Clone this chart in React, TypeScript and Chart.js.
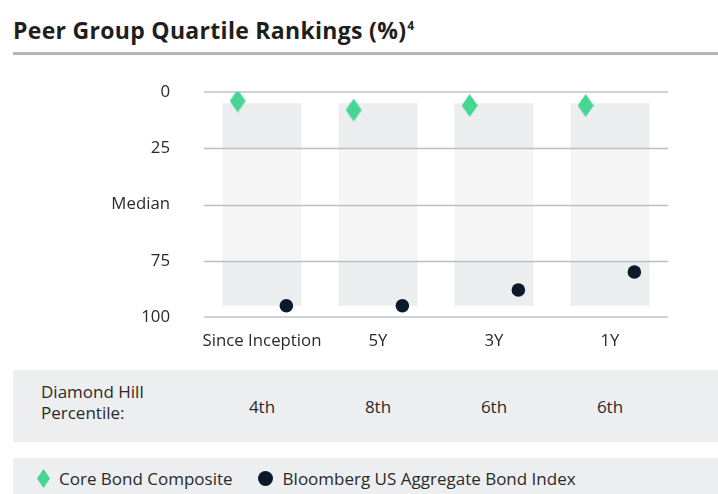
import React, { useEffect, useRef } from 'react';
import { Chart, registerables } from 'chart.js';

Chart.register(...registerables);

// ---- data ----
const categories = ['Since Inception', '5Y', '3Y', '1Y'];
const coreBondRank = [4, 8, 6, 6];
const benchmarkRank = [95, 95, 88, 80];
const topQuartileBand = [[5, 25], [5, 25], [5, 25], [5, 25]];
const middleQuartilesBand = [[25, 75], [25, 75], [25, 75], [25, 75]];
const bottomQuartileBand = [[75, 95], [75, 95], [75, 95], [75, 95]];
const yTickValues = [0, 25, 50, 75, 100];
const yTickLabels = ['0', '25', 'Median', '75', '100'];
const percentileLabels = ['4th', '8th', '6th', '6th'];

// ---- styles ----
const GREEN = '#47D594';
const NAVY = '#0B1A2A';
const TEXT = '#2A2A2A';
const FONT = '"Open Sans", sans-serif';
const MARKER_SHIFT = 0.21; // fraction of a category the markers sit left/right of centre

function makeDiamond(w: number, h: number, color: string) {
  const c = document.createElement('canvas');
  c.width = w;
  c.height = h;
  const ctx = c.getContext('2d')!;
  ctx.fillStyle = color;
  ctx.beginPath();
  ctx.moveTo(w / 2, 0);
  ctx.lineTo(w, h / 2);
  ctx.lineTo(w / 2, h);
  ctx.lineTo(0, h / 2);
  ctx.closePath();
  ctx.fill();
  return c;
}

const gridOverBars = {
  id: 'gridOverBars',
  afterDatasetDraw(chart: any, args: any) {
    if (args.index !== 2) return;
    const { ctx, chartArea, scales } = chart;
    const y = scales.y;
    ctx.save();
    y.ticks.forEach((t: any) => {
      const edge = t.value === 0 || t.value === 100;
      const py = y.getPixelForValue(t.value);
      ctx.strokeStyle = edge ? '#CFD2D6' : '#BBBEC3';
      ctx.lineWidth = edge ? 2 : 1.3;
      const yy = Math.round(py) + (edge ? 0 : 0.5);
      ctx.beginPath();
      ctx.moveTo(chartArea.left, yy);
      ctx.lineTo(chartArea.right, yy);
      ctx.stroke();
    });
    ctx.restore();
  },
};

function RankChart() {
  const ref = useRef<HTMLCanvasElement>(null);
  useEffect(() => {
    const diamond = makeDiamond(16, 23, GREEN);
    const chart = new Chart(ref.current!, {
      type: 'bar',
      data: {
        labels: categories,
        datasets: [
          {
            type: 'scatter',
            label: 'Core Bond Composite',
            xAxisID: 'xp',
            data: coreBondRank.map((v, i) => ({ x: i - MARKER_SHIFT, y: v })),
            pointStyle: diamond as any,
            backgroundColor: GREEN,
            borderWidth: 0,
          } as any,
          {
            type: 'scatter',
            label: 'Bloomberg US Aggregate Bond Index',
            xAxisID: 'xp',
            data: benchmarkRank.map((v, i) => ({ x: i + MARKER_SHIFT, y: v })),
            pointStyle: 'circle',
            pointRadius: 6.8,
            backgroundColor: NAVY,
            borderColor: NAVY,
            borderWidth: 0,
          } as any,
          {
            label: 'top',
            data: topQuartileBand as any,
            backgroundColor: '#ECEDEF',
            grouped: false,
            categoryPercentage: 1,
            barPercentage: 0.68,
          } as any,
          {
            label: 'middle',
            data: middleQuartilesBand as any,
            backgroundColor: '#F5F5F6',
            grouped: false,
            categoryPercentage: 1,
            barPercentage: 0.68,
          } as any,
          {
            label: 'bottom',
            data: bottomQuartileBand as any,
            backgroundColor: '#ECEDEF',
            grouped: false,
            categoryPercentage: 1,
            barPercentage: 0.68,
          } as any,
        ],
      },
      options: {
        animation: false,
        responsive: false,
        maintainAspectRatio: false,
        layout: { padding: { top: 32, right: 50, bottom: 0, left: 0 } },
        plugins: { legend: { display: false }, tooltip: { enabled: false } },
        scales: {
          x: {
            type: 'category',
            offset: true,
            grid: { display: false, drawTicks: false },
            border: { display: false },
            ticks: {
              color: TEXT,
              font: { family: FONT, size: 16.8 },
              padding: 14,
              maxRotation: 0,
              autoSkip: false,
            },
            afterFit: (s: any) => {
              s.height = 43;
            },
          },
          xp: {
            type: 'linear',
            display: false,
            offset: false,
            min: -0.5,
            max: categories.length - 0.5,
          },
          y: {
            type: 'linear',
            reverse: true,
            min: 0,
            max: 100,
            afterBuildTicks: (s: any) => {
              s.ticks = yTickValues.map((v) => ({ value: v }));
            },
            ticks: {
              color: TEXT,
              font: { family: FONT, size: 16.8 },
              padding: 34,
              callback: (v: any) => yTickLabels[yTickValues.indexOf(Number(v))],
            },
            grid: { display: false, drawTicks: false },
            border: { display: false },
            afterFit: (s: any) => {
              s.width = 204;
              s.paddingTop = 0;
              s.paddingBottom = 0;
            },
          },
        },
      } as any,
      plugins: [gridOverBars],
    });
    return () => chart.destroy();
  }, []);
  return <canvas ref={ref} width={718} height={300} style={{ display: 'block', width: 718, height: 300 }} />;
}

export default function App() {
  return (
    <div
      style={{
        position: 'absolute',
        left: 0,
        top: 0,
        width: 718,
        height: 494,
        overflow: 'hidden',
        background: '#fff',
        fontFamily: FONT,
        color: TEXT,
      }}
    >
      <div
        style={{
          position: 'absolute',
          left: 13,
          top: 19,
          fontFamily: FONT,
          fontWeight: 700,
          fontSize: 23,
          lineHeight: '23px',
          letterSpacing: 0.3,
          color: '#1E1E1E',
          whiteSpace: 'nowrap',
        }}
      >
        Peer Group Quartile Rankings (%)
        <sup style={{ fontSize: 12, verticalAlign: 0, position: 'relative', top: -9, marginLeft: 1 }}>4</sup>
      </div>
      <div style={{ position: 'absolute', left: 13, top: 52, width: 705, height: 3, background: '#B1B5BC' }} />

      <div style={{ position: 'absolute', left: 0, top: 60 }}>
        <RankChart />
      </div>

      <div
        style={{
          position: 'absolute',
          left: 13,
          top: 370,
          width: 705,
          height: 72,
          background: '#EDEEF0',
          fontSize: 17,
        }}
      >
        <div
          style={{
            position: 'absolute',
            left: 28,
            top: -4,
            height: 72,
            display: 'flex',
            alignItems: 'center',
            lineHeight: '21.5px',
          }}
        >
          Diamond Hill
          <br />
          Percentile:
        </div>
        {percentileLabels.map((p, i) => (
          <div
            key={i}
            style={{
              position: 'absolute',
              left: 191 + i * 116,
              width: 116,
              top: 0,
              height: 72,
              display: 'flex',
              alignItems: 'center',
              justifyContent: 'center',
            }}
          >
            {p}
          </div>
        ))}
      </div>

      <div
        style={{
          position: 'absolute',
          left: 13,
          top: 458,
          width: 705,
          height: 40,
          background: '#EDEEF0',
          fontSize: 17,
          display: 'flex',
          alignItems: 'center',
        }}
      >
        <svg width={13} height={19} style={{ marginLeft: 24, marginRight: 9 }}>
          <polygon points="6.5,0 13,9.5 6.5,19 0,9.5" fill={GREEN} />
        </svg>
        <span>Core Bond Composite</span>
        <span
          style={{
            display: 'inline-block',
            width: 15,
            height: 15,
            borderRadius: '50%',
            background: NAVY,
            marginLeft: 25,
            marginRight: 10,
          }}
        />
        <span>Bloomberg US Aggregate Bond Index</span>
      </div>
    </div>
  );
}
